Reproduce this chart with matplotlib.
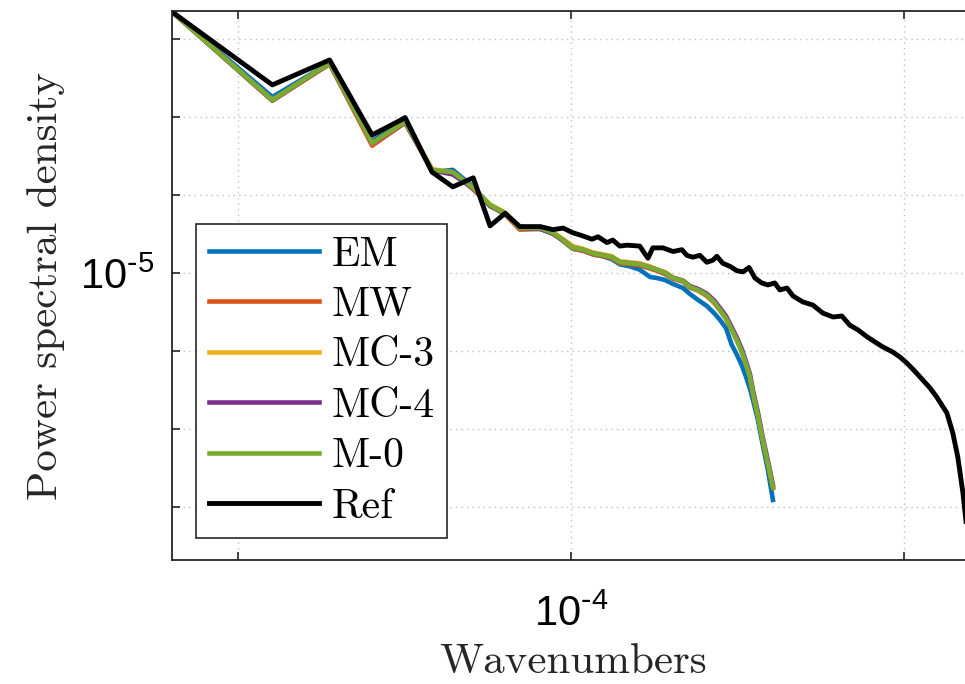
import matplotlib
matplotlib.use("Agg")
import matplotlib.pyplot as plt
from matplotlib.ticker import FixedLocator, FixedFormatter, NullLocator

# wavenumbers (x 1e-4) shared by the simulated spectra
k_sim = [0.436, 0.537, 0.605, 0.661, 0.708, 0.749, 0.782, 0.816, 0.845, 0.872,
         0.899, 0.938, 0.963, 0.984, 1.004, 1.025, 1.047, 1.069, 1.089, 1.107,
         1.131, 1.154, 1.179, 1.196, 1.216, 1.237, 1.263, 1.281, 1.303, 1.327,
         1.347, 1.364, 1.381, 1.398, 1.413, 1.428, 1.440, 1.452, 1.461, 1.476,
         1.491, 1.507, 1.523]

# power spectral density (x 1e-5)
psd_em = [10.17, 4.78, 6.46, 3.22, 3.99, 2.45, 2.50, 2.15, 1.81, 1.70,
          1.48, 1.48, 1.42, 1.33, 1.24, 1.22, 1.18, 1.16, 1.13, 1.08,
          1.06, 1.03, 0.965, 0.956, 0.940, 0.907, 0.875, 0.830, 0.787, 0.746,
          0.701, 0.659, 0.613, 0.527, 0.483, 0.438, 0.397, 0.357, 0.323, 0.271,
          0.217, 0.174, 0.133]
psd_mw = [10.17, 4.62, 6.40, 3.10, 3.80, 2.48, 2.45, 2.10, 1.82, 1.68,
          1.47, 1.48, 1.42, 1.33, 1.24, 1.22, 1.18, 1.16, 1.14, 1.09,
          1.08, 1.07, 1.04, 1.02, 0.99, 0.950, 0.925, 0.878, 0.855, 0.815,
          0.768, 0.716, 0.667, 0.600, 0.548, 0.493, 0.443, 0.395, 0.342, 0.281,
          0.225, 0.183, 0.148]
psd_mc3 = [10.17, 4.66, 6.46, 3.16, 3.82, 2.52, 2.44, 2.12, 1.84, 1.71,
           1.50, 1.49, 1.44, 1.35, 1.27, 1.24, 1.20, 1.18, 1.16, 1.11,
           1.10, 1.09, 1.06, 1.03, 1.01, 0.960, 0.935, 0.887, 0.862, 0.825,
           0.776, 0.722, 0.672, 0.605, 0.553, 0.497, 0.447, 0.399, 0.346, 0.285,
           0.229, 0.186, 0.150]
psd_mc4 = [10.17, 4.64, 6.45, 3.17, 3.81, 2.49, 2.40, 2.12, 1.82, 1.70,
           1.49, 1.48, 1.42, 1.34, 1.25, 1.23, 1.19, 1.17, 1.15, 1.10,
           1.09, 1.08, 1.05, 1.03, 1.00, 0.958, 0.934, 0.890, 0.868, 0.832,
           0.785, 0.733, 0.683, 0.616, 0.563, 0.506, 0.455, 0.406, 0.352, 0.290,
           0.232, 0.189, 0.152]
psd_m0 = [10.17, 4.65, 6.46, 3.18, 3.83, 2.50, 2.45, 2.13, 1.83, 1.70,
          1.49, 1.49, 1.43, 1.34, 1.25, 1.23, 1.19, 1.17, 1.15, 1.10,
          1.09, 1.08, 1.05, 1.03, 1.00, 0.956, 0.931, 0.883, 0.860, 0.822,
          0.773, 0.720, 0.670, 0.603, 0.551, 0.495, 0.445, 0.397, 0.344, 0.283,
          0.227, 0.185, 0.149]

# reference spectrum
k_ref = [0.436, 0.537, 0.605, 0.661, 0.708, 0.749, 0.782, 0.816, 0.845, 0.872,
         0.899, 0.938, 0.963, 0.984, 1.004, 1.025, 1.045, 1.058, 1.078, 1.091,
         1.107, 1.124, 1.154, 1.174, 1.186, 1.211, 1.237, 1.260, 1.273, 1.289,
         1.308, 1.327, 1.344, 1.355, 1.372, 1.393, 1.413, 1.431, 1.449, 1.467,
         1.488, 1.507, 1.529, 1.545, 1.568, 1.588, 1.621, 1.655, 1.690, 1.726,
         1.758, 1.788, 1.818, 1.852, 1.883, 1.915, 1.955, 1.984, 2.013, 2.046,
         2.081, 2.112, 2.142, 2.165, 2.188, 2.215, 2.238, 2.262, 2.281]
psd_ref = [10.17, 5.32, 6.64, 3.41, 3.97, 2.45, 2.15, 2.33, 1.52, 1.70,
           1.51, 1.51, 1.47, 1.49, 1.43, 1.39, 1.35, 1.38, 1.31, 1.34,
           1.27, 1.28, 1.27, 1.14, 1.25, 1.25, 1.21, 1.23, 1.17, 1.15,
           1.17, 1.10, 1.12, 1.16, 1.09, 1.06, 1.02, 1.01, 1.05, 0.956,
           0.915, 0.899, 0.915, 0.860, 0.875, 0.815, 0.773, 0.752, 0.700, 0.676,
           0.682, 0.628, 0.603, 0.568, 0.542, 0.518, 0.495, 0.474, 0.449, 0.418,
           0.386, 0.360, 0.332, 0.309, 0.288, 0.241, 0.195, 0.142, 0.102]

labels = ["EM", "MW", "MC-3", "MC-4", "M-0", "Ref"]
colors = ["#0072BD", "#D95319", "#EDB120", "#7E2F8E", "#77AC30", "black"]

x_ticks = [0.5e-4, 1e-4, 2e-4]
x_ticklabels = ["", r"$\mathregular{10^{\text{-}4}}$", ""]
y_ticks = [1.25e-6, 2.5e-6, 5e-6, 1e-5, 2e-5, 4e-5, 8e-5]
y_ticklabels = ["", "", "", r"$\mathregular{10^{\text{-}5}}$", "", "", ""]

plt.rcParams["font.family"] = ["Liberation Sans", "DejaVu Sans"]
serif = "cmr10"

fig = plt.figure(figsize=(9.65, 6.84), dpi=100)
ax = fig.add_axes([0.1782, 0.1813, 0.832, 0.8026])

sim = [psd_em, psd_mw, psd_mc3, psd_mc4, psd_m0]
for vals, lab, col in zip(sim, labels[:5], colors[:5]):
    ax.plot([k * 1e-4 for k in k_sim], [v * 1e-5 for v in vals],
            color=col, lw=3.3, label=lab)
ax.plot([k * 1e-4 for k in k_ref], [v * 1e-5 for v in psd_ref],
        color=colors[5], lw=3.5, label=labels[5])

ax.set_xscale("log")
ax.set_yscale("log")
ax.set_xlim(4.357e-5, 2.319e-4)
ax.set_ylim(7.80e-7, 1.026e-4)

ax.xaxis.set_major_locator(FixedLocator(x_ticks))
ax.xaxis.set_major_formatter(FixedFormatter(x_ticklabels))
ax.yaxis.set_major_locator(FixedLocator(y_ticks))
ax.yaxis.set_major_formatter(FixedFormatter(y_ticklabels))
ax.xaxis.set_minor_locator(NullLocator())
ax.yaxis.set_minor_locator(NullLocator())

ax.tick_params(which="both", direction="in", length=6, width=1.2,
               color="0.15", top=True, right=True, labelsize=30)
ax.tick_params(axis="x", pad=25)
ax.tick_params(axis="y", pad=13)
ax.grid(True, color="0.75", linestyle=(0, (1, 3)), linewidth=1.0)
for sp in ax.spines.values():
    sp.set_color("0.15")
    sp.set_linewidth(1.3)

ax.set_xlabel("Wavenumbers", fontfamily=serif, fontsize=31, color="0.15")
ax.set_ylabel("Power spectral density", fontfamily=serif, fontsize=31,
              color="0.15")
ax.xaxis.set_label_coords(0.5, -0.152)
ax.yaxis.set_label_coords(-0.133, 0.5)

leg = ax.legend(loc="lower left", bbox_to_anchor=(0.030, 0.040),
                borderaxespad=0, fancybox=False, framealpha=1,
                edgecolor="0.15", prop={"family": serif, "size": 30},
                handlelength=2.65, handletextpad=0.3, labelspacing=0.31,
                borderpad=0.3)
leg.get_frame().set_linewidth(1.2)

fig.savefig("out.png", dpi=100)
